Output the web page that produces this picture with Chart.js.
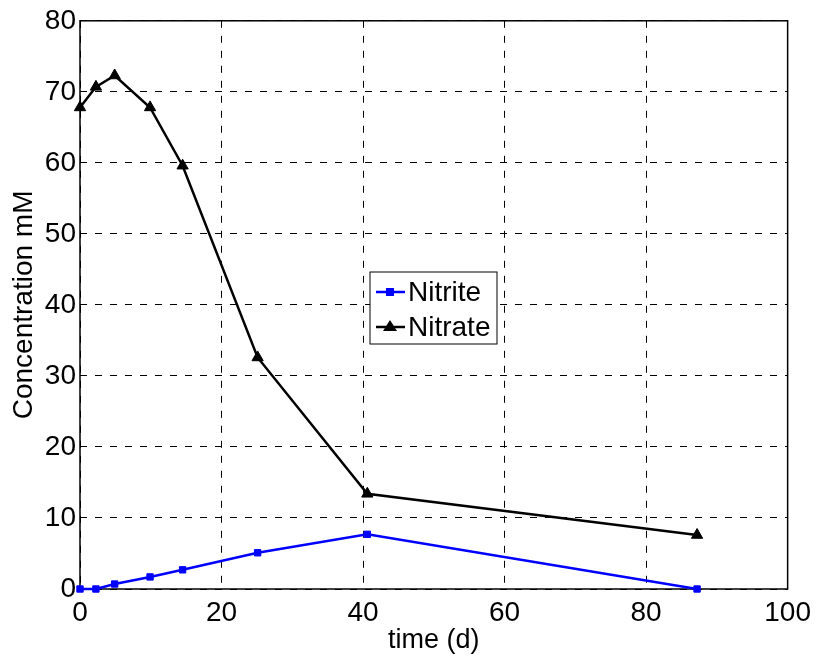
<!DOCTYPE html>
<html>
<head>
<meta charset="utf-8">
<script src="https://cdn.jsdelivr.net/npm/chart.js@4"></script>
<style>
  html, body { margin: 0; padding: 0; background: #fff; }
  #wrap { width: 818px; height: 657px; }
</style>
</head>
<body>
<div id="wrap"><canvas id="chart" width="818" height="657"></canvas></div>
<script>
// time (d) of each sample
const days = [0, 2.25, 4.9, 9.9, 14.5, 25.1, 40.6, 87.2];
// concentrations (mM)
const nitrite = [0, 0, 0.7, 1.7, 2.7, 5.1, 7.7, 0];
const nitrate = [67.8, 70.7, 72.3, 67.8, 59.6, 32.6, 13.4, 7.6];

const xTicks = [0, 20, 40, 60, 80, 100];
const yTicks = [0, 10, 20, 30, 40, 50, 60, 70, 80];

const FONT = 'Liberation Sans, Arial, sans-serif';

const toPoints = (xs, ys) => xs.map((x, i) => ({ x: x, y: ys[i] }));

// frame around the plot + legend box in the middle
const framePlugin = {
  id: 'frame',
  beforeDatasetsDraw(chart) {
    const { ctx, chartArea: a } = chart;
    ctx.save();
    ctx.strokeStyle = '#000';
    ctx.lineWidth = 1.5;
    ctx.setLineDash([]);
    ctx.strokeRect(a.left, a.top, a.right - a.left, a.bottom - a.top);
    ctx.restore();
  },
  afterDraw(chart) {
    const { ctx } = chart;
    ctx.save();
    // legend
    const bx = 370, by = 272, bw = 127, bh = 72;
    ctx.fillStyle = '#fff';
    ctx.fillRect(bx, by, bw, bh);
    ctx.strokeStyle = '#000';
    ctx.lineWidth = 1;
    ctx.strokeRect(bx, by, bw, bh);
    ctx.font = '28px ' + FONT;
    ctx.textBaseline = 'middle';
    chart.data.datasets.forEach((ds, i) => {
      const cy = by + 20 + i * 35;
      ctx.strokeStyle = ds.borderColor;
      ctx.lineWidth = 2.5;
      ctx.beginPath();
      ctx.moveTo(bx + 6, cy);
      ctx.lineTo(bx + 35, cy);
      ctx.stroke();
      ctx.fillStyle = ds.borderColor;
      if (ds.pointStyle === 'rect') {
        ctx.fillRect(bx + 16, cy - 4, 8, 8);
      } else {
        ctx.beginPath();
        ctx.moveTo(bx + 20, cy - 7);
        ctx.lineTo(bx + 27, cy + 4);
        ctx.lineTo(bx + 13, cy + 4);
        ctx.closePath();
        ctx.fill();
      }
      ctx.fillStyle = '#000';
      ctx.fillText(ds.label, bx + 38, cy + 1);
    });
    ctx.restore();
  }
};

new Chart(document.getElementById('chart'), {
  type: 'line',
  data: {
    datasets: [
      {
        label: 'Nitrite',
        data: toPoints(days, nitrite),
        borderColor: '#0000ff',
        backgroundColor: '#0000ff',
        borderWidth: 2.5,
        pointStyle: 'rect',
        pointRadius: 4.5,
        pointBorderWidth: 1,
        clip: false,
        tension: 0
      },
      {
        label: 'Nitrate',
        data: toPoints(days, nitrate),
        borderColor: '#000000',
        backgroundColor: '#000000',
        borderWidth: 2.5,
        pointStyle: 'triangle',
        pointRadius: 6.5,
        pointBorderWidth: 1,
        clip: false,
        tension: 0
      }
    ]
  },
  options: {
    responsive: false,
    animation: false,
    layout: { padding: { top: 20, right: 29, left: 0, bottom: 0 } },
    plugins: { legend: { display: false }, tooltip: { enabled: false } },
    scales: {
      x: {
        type: 'linear',
        min: 0,
        max: 100,
        afterBuildTicks: s => { s.ticks = xTicks.map(v => ({ value: v })); },
        afterFit: s => { s.height = 68; },
        grid: { color: '#000', lineWidth: 1, drawTicks: false },
        border: { display: false, dash: [7, 8] },
        ticks: { color: '#000', font: { family: FONT, size: 28 }, padding: 7, maxRotation: 0 },
        title: { display: true, text: 'time (d)', color: '#000', font: { family: FONT, size: 27 }, padding: { top: 0, bottom: 0 } }
      },
      y: {
        type: 'linear',
        min: 0,
        max: 80,
        afterBuildTicks: s => { s.ticks = yTicks.map(v => ({ value: v })); },
        afterFit: s => { s.width = 80; },
        grid: { color: '#000', lineWidth: 1, drawTicks: false },
        border: { display: false, dash: [7, 8] },
        ticks: { color: '#000', font: { family: FONT, size: 28 }, padding: 4 },
        title: { display: true, text: 'Concentration mM', color: '#000', font: { family: FONT, size: 28 }, padding: { top: 7, bottom: 0 } }
      }
    }
  },
  plugins: [framePlugin]
});
</script>
</body>
</html>
